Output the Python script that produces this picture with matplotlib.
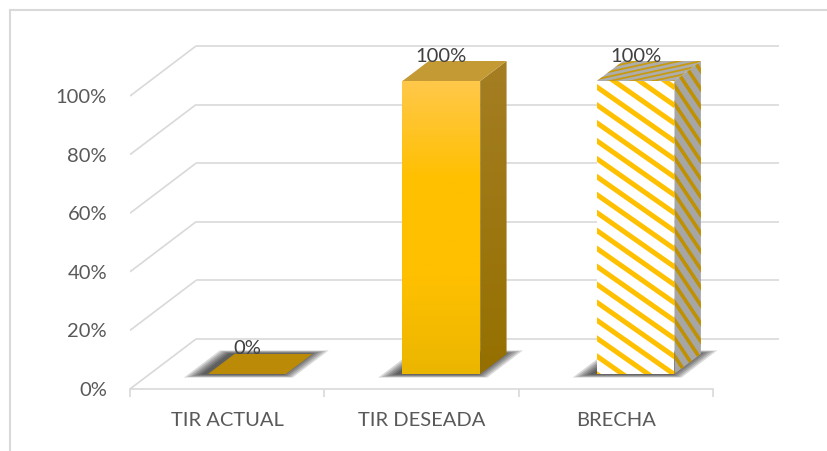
import numpy as np
import matplotlib
matplotlib.use("Agg")
import matplotlib.pyplot as plt
from matplotlib.patches import Polygon
from matplotlib.lines import Line2D
from matplotlib.colors import LinearSegmentedColormap

# -------------------------------
# Data
# -------------------------------
categories = ["TIR ACTUAL", "TIR DESEADA", "BRECHA"]
values = [0, 100, 100]
y_ticks = [0, 20, 40, 60, 80, 100]

plt.rcParams["font.family"] = ["Lato", "DejaVu Sans"]

GRID = "#D9D9D9"
TEXT = "#595959"
FS = 14.5

# pixel scale of the front plane
PX_CAT = 194.33      # pixels per category
PX_PCT = 2.93        # pixels per percent
W, H = 827, 451
X0, Y0 = 130, 62     # front-left corner of the floor (pixels from left / bottom)

# depth of the 3d box in data units
DX = 66 / PX_CAT
DY = 50 / PX_PCT
D_FRONT, D_BACK = 0.3, 0.7
BAR_W = 0.4

fig = plt.figure(figsize=(W / 100, H / 100), dpi=100)
ax = fig.add_axes([X0 / W, Y0 / H, (W - X0) / W, (H - Y0) / H])
for s in ax.spines.values():
    s.set_visible(False)


def pt(x, v, d):
    return (x + d * DX, v + d * DY)


def stripes(poly, direction, period, width, color, z):
    # parallel stripes (sizes in pixels) clipped to a face
    clip = Polygon(poly, facecolor="none", edgecolor="none", zorder=z)
    ax.add_patch(clip)
    P = np.array(poly) * [PX_CAT, PX_PCT]
    d = np.array(direction, float)
    d /= np.hypot(*d)
    nrm = np.array([-d[1], d[0]])
    s = P @ nrm
    L = np.ptp(P @ d) + 50
    c = P.mean(axis=0)
    for off in np.arange(s.min() - period, s.max() + period, period):
        base = c + (off - c @ nrm) * nrm
        a = (base - d * L) / [PX_CAT, PX_PCT]
        b = (base + d * L) / [PX_CAT, PX_PCT]
        ln, = ax.plot([a[0], b[0]], [a[1], b[1]], color=color, lw=width * 0.72,
                      solid_capstyle="butt", zorder=z)
        ln.set_clip_path(clip)


# -------------------------------
# walls: gridlines on the back wall plus the diagonals on the left side
# -------------------------------
n = len(categories)
for t in y_ticks:
    xb, yb = pt(0, t, 1)
    ax.plot([0, xb], [t, yb], color=GRID, lw=1.2, zorder=1, solid_capstyle="butt")
    ax.plot([xb, xb + n], [yb, yb], color=GRID, lw=1.2, zorder=1, solid_capstyle="butt")
ax.plot([0, n], [0, 0], color=GRID, lw=1.2, zorder=1, clip_on=False)

# axis ticks and labels
ax.set_yticks(y_ticks)
ax.set_yticklabels([f"{t}%" for t in y_ticks])
ax.set_xticks([i + 0.5 for i in range(n)])
ax.set_xticklabels(categories)
ax.set_xticks(range(n + 1), minor=True)
ax.tick_params(axis="y", length=0, pad=16.5, labelsize=FS, labelcolor=TEXT)
ax.tick_params(axis="x", which="major", length=0, pad=16.5, labelsize=FS, labelcolor=TEXT)
ax.tick_params(axis="x", which="minor", length=6, width=1.2, color=GRID)

# -------------------------------
# Bars
# -------------------------------
front_cmap = LinearSegmentedColormap.from_list(
    "gold", ["#EBB600", "#FFC000", "#FFC000", "#FFC84A"])
side_cmap = LinearSegmentedColormap.from_list("gold_side", ["#957000", "#A47E22"])

for i, (cat, v) in enumerate(zip(categories, values)):
    x0, x1 = i + 0.5 - BAR_W / 2, i + 0.5 + BAR_W / 2

    # soft shadow on the floor
    for k in range(1, 7):
        mx = k * 2.6 / PX_CAT
        md = k * 0.012
        sh = [pt(x0 - mx - 0.02, 0, D_FRONT - md), pt(x1 + mx - 0.02, 0, D_FRONT - md),
              pt(x1 + mx - 0.02, 0, D_BACK + md), pt(x0 - mx - 0.02, 0, D_BACK + md)]
        ax.add_patch(Polygon(sh, closed=True, facecolor="black", edgecolor="none",
                             alpha=0.15, zorder=2))

    front = [pt(x0, 0, D_FRONT), pt(x1, 0, D_FRONT), pt(x1, v, D_FRONT), pt(x0, v, D_FRONT)]
    side = [pt(x1, 0, D_FRONT), pt(x1, 0, D_BACK), pt(x1, v, D_BACK), pt(x1, v, D_FRONT)]
    top = [pt(x0, v, D_FRONT), pt(x1, v, D_FRONT), pt(x1, v, D_BACK), pt(x0, v, D_BACK)]

    if cat == "BRECHA":
        ax.add_patch(Polygon(side, facecolor="#A6A6A6", edgecolor="none", zorder=3))
        stripes(side, (1, -1.5), 10, 3.6, "#BF9000", 3)
        ax.add_patch(Polygon(top, facecolor="#ADADAD", edgecolor="none", zorder=3))
        stripes(top, (1, 0.22), 4.6, 1.8, "#C79A10", 3)
        ax.add_patch(Polygon(front, facecolor="white", edgecolor="none", zorder=4))
        stripes(front, (1, -0.7), 14.7, 5.0, "#FFC000", 4)
    elif v == 0:
        ax.add_patch(Polygon(top, facecolor="#BB8A07", edgecolor="none", zorder=3))
    else:
        grad = np.linspace(0, 1, 256).reshape(-1, 1)
        sp = Polygon(side, facecolor="none", edgecolor="none", zorder=3)
        ax.add_patch(sp)
        xs = [p[0] for p in side]
        ys = [p[1] for p in side]
        im = ax.imshow(grad, cmap=side_cmap, extent=(min(xs), max(xs), min(ys), max(ys)),
                       origin="lower", aspect="auto", zorder=3)
        im.set_clip_path(sp)
        ax.add_patch(Polygon(top, facecolor="#C49A35", edgecolor="none", zorder=3))
        fp = Polygon(front, facecolor="none", edgecolor="none", zorder=4)
        ax.add_patch(fp)
        im = ax.imshow(grad, cmap=front_cmap, extent=(x0 + D_FRONT * DX, x1 + D_FRONT * DX,
                                                     D_FRONT * DY, v + D_FRONT * DY),
                       origin="lower", aspect="auto", zorder=4)
        im.set_clip_path(fp)

    # value label
    lx, ly = pt(i + 0.5, v, D_FRONT)
    ax.annotate(f"{v}%", xy=(lx, ly), xytext=(0, 18), textcoords="offset points",
                ha="center", va="center", fontsize=FS, color="#404040", zorder=6)

ax.set_xlim(0, (W - X0) / PX_CAT)
ax.set_ylim(0, (H - Y0) / PX_PCT)

# chart area border (top and left edges)
fig.add_artist(Line2D([10 / W, 10 / W], [0, 1 - 10 / H], color=GRID, lw=1.5,
                      transform=fig.transFigure))
fig.add_artist(Line2D([10 / W, 1], [1 - 10 / H, 1 - 10 / H], color=GRID, lw=1.5,
                      transform=fig.transFigure))

fig.savefig("out.png", dpi=100)
